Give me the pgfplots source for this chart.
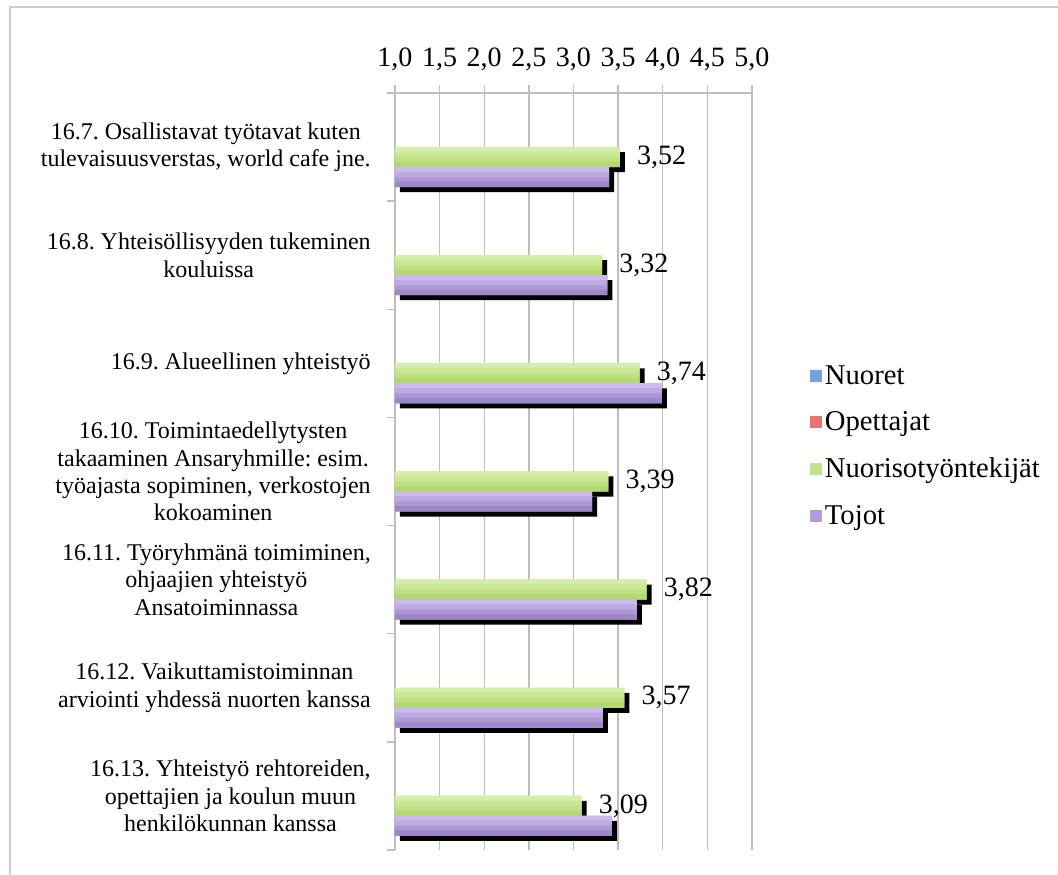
\documentclass[border=0pt]{standalone}
\usepackage{fontspec}
\setmainfont{Liberation Serif}
\usepackage{pgfplots}
\usepackage{pgfplotstable}
\pgfplotsset{compat=1.18}
\frenchspacing

\definecolor{gridgray}{RGB}{190,190,190}
\definecolor{framegray}{RGB}{205,205,205}
\definecolor{nuoret}{RGB}{110,165,228}
\definecolor{opett}{RGB}{232,115,115}
\definecolor{nuoriso}{RGB}{196,228,142}
\definecolor{tojot}{RGB}{178,158,218}
\definecolor{g1}{RGB}{212,238,168}
\definecolor{g2}{RGB}{202,232,150}
\definecolor{g3}{RGB}{191,225,131}
\definecolor{g4}{RGB}{179,217,112}
\definecolor{p1}{RGB}{204,186,237}
\definecolor{p2}{RGB}{189,169,227}
\definecolor{p3}{RGB}{174,152,214}
\definecolor{p4}{RGB}{158,134,202}

\pgfplotsset{strip/.style 2 args={xbar, bar width=0.05, bar shift=#1,
  fill=#2, draw=none, forget plot}}

% y = position from the bottom (6 = 16.7, 0 = 16.13)
\pgfplotstableread{
y green purple
6 3.52 3.40
5 3.32 3.38
4 3.74 3.99
3 3.39 3.21
2 3.82 3.71
1 3.57 3.33
0 3.09 3.43
}\ansadata

\begin{document}
\begin{tikzpicture}
\begin{axis}[
  name=ax,
  scale only axis, width=267.75pt, height=567.75pt,
  xmin=1, xmax=5, ymin=-0.5, ymax=6.5,
  axis x line*=top, axis y line*=left,
  axis line style={gridgray, line width=1.1pt, -},
  xtick={1,1.5,...,5},
  xmajorgrids,
  grid style={gridgray, line width=1.1pt},
  tick style={gridgray, line width=1.1pt},
  tick align=outside,
  major tick length=6pt,
  /pgf/number format/assume math mode=true,
  xticklabel style={font=\fontsize{21}{24}\selectfont, yshift=7pt,
    /pgf/number format/.cd, use comma, fixed, fixed zerofill, precision=1},
  ytick={-0.5,0.5,...,6.5},
  yticklabels={},
  extra y ticks={0,1,2,3,4,5,6},
  extra y tick labels={
    {16.13. Yhteistyö rehtoreiden,\\opettajien ja koulun muun\\henkilökunnan kanssa},
    {16.12. Vaikuttamistoiminnan\\arviointi yhdessä nuorten kanssa},
    {16.11. Työryhmänä toimiminen,\\ohjaajien yhteistyö\\Ansatoiminnassa},
    {16.10. Toimintaedellytysten\\takaaminen Ansaryhmille: esim.\\työajasta sopiminen, verkostojen\\kokoaminen},
    {16.9. Alueellinen yhteistyö},
    {16.8. Yhteisöllisyyden tukeminen\\kouluissa},
    {16.7. Osallistavat työtavat kuten\\tulevaisuusverstas, world cafe jne.}},
  extra y tick style={major tick length=0pt,
    yticklabel style={font=\fontsize{18}{20.5}\selectfont, align=center,
      anchor=east, inner sep=0pt, xshift=-18pt}},
  legend style={at={(1.1625,0.534)}, anchor=west, draw=none, fill=none,
    font=\fontsize{21.5}{24}\selectfont, row sep=15pt, inner sep=0pt,
    cells={anchor=west}},
  legend image code/.code={\fill[#1, draw=none] (0pt,-4.5pt) rectangle (9pt,4.5pt);},
]
\coordinate (A) at (rel axis cs:0,0);
\addlegendimage{fill=nuoret}
\addlegendentry{Nuoret}
\addlegendimage{fill=opett}
\addlegendentry{Opettajat}

% shadows
\addplot[xbar, bar width=0.185, bar shift=-0.0925, fill=black, draw=none,
  xshift=3.75pt, yshift=-3.75pt, forget plot] table[x=green, y=y]{\ansadata};
\addplot[xbar, bar width=0.185, bar shift=-0.2775, fill=black, draw=none,
  xshift=3.75pt, yshift=-3.75pt, forget plot] table[x=purple, y=y]{\ansadata};

% bars (legend + value labels)
\addplot[xbar, bar width=0.185, bar shift=-0.0925, fill=nuoriso, draw=none,
  nodes near coords={\pgfmathprintnumber[use comma, fixed, fixed zerofill, precision=2]{\pgfplotspointmeta}},
  nodes near coords style={anchor=west, inner sep=0pt, xshift=12.75pt, yshift=-7.5pt, black,
    font=\fontsize{21}{24}\selectfont}]
  table[x=green, y=y]{\ansadata};
\addlegendentry{Nuorisotyöntekijät}
\addplot[xbar, bar width=0.185, bar shift=-0.2775, fill=tojot, draw=none]
  table[x=purple, y=y]{\ansadata};
\addlegendentry{Tojot}

% gradient strips, light on top
\addplot[strip={-0.0231}{g1}] table[x=green, y=y]{\ansadata};
\addplot[strip={-0.0694}{g2}] table[x=green, y=y]{\ansadata};
\addplot[strip={-0.1156}{g3}] table[x=green, y=y]{\ansadata};
\addplot[strip={-0.1594}{g4}] table[x=green, y=y]{\ansadata};
\addplot[strip={-0.2081}{p1}] table[x=purple, y=y]{\ansadata};
\addplot[strip={-0.2544}{p2}] table[x=purple, y=y]{\ansadata};
\addplot[strip={-0.3006}{p3}] table[x=purple, y=y]{\ansadata};
\addplot[strip={-0.3444}{p4}] table[x=purple, y=y]{\ansadata};
\end{axis}
\pgfresetboundingbox
\path[use as bounding box] ([shift={(-296.25pt,-18.75pt)}]A) rectangle ([shift={(497.25pt,637.5pt)}]A);
\draw[framegray, line width=1.5pt] ([shift={(-288.75pt,-18.75pt)}]A) -- ([shift={(-288.75pt,632.25pt)}]A) -- ([shift={(497.25pt,632.25pt)}]A);
\end{tikzpicture}
\end{document}
